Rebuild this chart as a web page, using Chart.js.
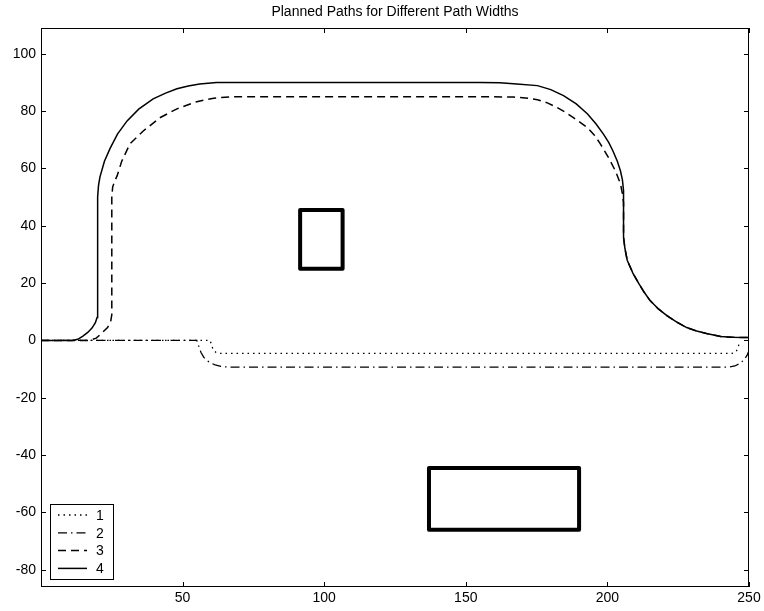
<!DOCTYPE html>
<html>
<head>
<meta charset="utf-8">
<script src="https://cdn.jsdelivr.net/npm/chart.js@4.4.0/dist/chart.umd.min.js"></script>
<style>
  html, body { margin: 0; padding: 0; background: #fff; }
</style>
</head>
<body>
<canvas id="chart" width="764" height="611"></canvas>
<script>
// tick labels
const xTicks = [50, 100, 150, 200, 250];
const yTicks = [-80, -60, -40, -20, 0, 20, 40, 60, 80, 100];

// path 1 (dotted)
const path1X = [0, 59.7, 60.2, 60.8, 61.8, 63, 244, 245.2, 246, 246.5];
const path1Y = [0, 0, -1.5, -3.3, -4.2, -4.5, -4.5, -4.1, -3, -1.2];

// path 2 (dash-dot)
const path2X = [0, 55, 55.7, 56.5, 57.5, 58.6, 60, 61.5, 63.5, 66, 243, 245, 246.8, 248.2, 249.3, 250];
const path2Y = [0, 0, -2, -4.2, -5.9, -7, -7.9, -8.5, -9, -9.3, -9.3, -8.9, -8, -6.8, -5.2, -3.5];

// path 3 (dashed)
const path3X = [0, 17, 19.5, 21.5, 23.5, 24.6, 25, 25, 25.3, 26, 26.9, 28.5, 31.4, 36, 42, 48, 55, 61, 67,
  160, 166.8, 171, 175.3, 179, 182.3, 185, 188, 190.5, 193, 195.5, 197.5, 200.4, 202.8, 204.6, 205.3, 205.7,
  205.7, 206.2, 207, 209, 211, 213, 215, 218, 221, 224.5, 228, 231.5, 235, 240, 244, 250];
const path3Y = [0, 0, 0.8, 2.6, 4.5, 6.5, 9, 50, 53.5, 55.5, 57.5, 62.5, 68.6, 73, 77.7, 80.8, 83.3, 84.5, 85,
  85, 84.9, 84.6, 84, 82.8, 81.2, 79.7, 77.7, 76, 74.2, 71.5, 68.6, 63.8, 59.2, 54.7, 51.2, 48,
  36, 32, 28, 23.5, 20, 16.8, 14, 11, 8.7, 6.4, 4.5, 3.3, 2.4, 1.4, 1.1, 1];

// path 4 (solid)
const path4X = [0, 11, 13, 14.8, 16.5, 18, 19.2, 19.8, 20, 20, 20.3, 20.8, 22.4, 24.4, 27, 30.4, 34.5, 39.6, 44, 48, 52, 56, 62,
  155, 162, 168, 175.3, 180, 184.5, 189, 193, 196, 198.6, 200.5, 202, 203.5, 204.6, 205.3, 205.7,
  205.7, 206.2, 207, 209, 211, 213, 215, 218, 221, 224.5, 228, 231.5, 235, 240, 244, 250];
const path4Y = [0, 0, 0.4, 1.5, 2.8, 4.3, 6.2, 8, 10, 50, 54, 57, 62.5, 67, 72, 76.6, 80.7, 84.3, 86.3, 87.8, 88.8, 89.5, 90,
  90, 89.9, 89.5, 88.9, 87.5, 85.4, 82.5, 79, 75.5, 72, 69, 66, 62.5, 59.2, 56, 52.3,
  36, 32, 28, 23.5, 20, 16.8, 14, 11, 8.7, 6.4, 4.5, 3.3, 2.4, 1.4, 1.1, 1];

// obstacles
const obstacle1X = [91.5, 106.5, 106.5, 91.5, 91.5];
const obstacle1Y = [25, 25, 45.5, 45.5, 25];
const obstacle2X = [137, 190, 190, 137, 137];
const obstacle2Y = [-66, -66, -44.5, -44.5, -66];

function toPoints(xs, ys) {
  return xs.map((x, i) => ({ x: x, y: ys[i] }));
}

const fontFamily = "'Liberation Sans', Arial, sans-serif";

// draws the box and the inward ticks on all four sides
const frameTicks = {
  id: "frameTicks",
  afterDraw(chart) {
    const ctx = chart.ctx;
    const a = chart.chartArea;
    const xs = chart.scales.x;
    const ys = chart.scales.y;
    const len = 5;
    ctx.save();
    ctx.strokeStyle = "#000";
    ctx.lineWidth = 1;
    ctx.strokeRect(a.left + 0.5, a.top + 0.5, a.right - a.left - 1, a.bottom - a.top - 1);
    ctx.beginPath();
    xTicks.forEach(v => {
      const px = Math.round(xs.getPixelForValue(v)) + 0.5;
      ctx.moveTo(px, a.bottom);
      ctx.lineTo(px, a.bottom - len);
      ctx.moveTo(px, a.top);
      ctx.lineTo(px, a.top + len);
    });
    yTicks.forEach(v => {
      const py = Math.round(ys.getPixelForValue(v)) + 0.5;
      ctx.moveTo(a.left, py);
      ctx.lineTo(a.left + len, py);
      ctx.moveTo(a.right, py);
      ctx.lineTo(a.right - len, py);
    });
    ctx.stroke();
    ctx.restore();
  }
};

// legend box in the lower left corner
const legendBox = {
  id: "legendBox",
  afterDraw(chart) {
    const ctx = chart.ctx;
    const a = chart.chartArea;
    const x0 = a.left + 9;
    const y0 = a.bottom - 83;
    const w = 63, h = 75;
    ctx.save();
    ctx.fillStyle = "#fff";
    ctx.fillRect(x0, y0, w, h);
    ctx.strokeStyle = "#000";
    ctx.lineWidth = 1;
    ctx.strokeRect(x0 + 0.5, y0 + 0.5, w, h);
    const items = chart.data.datasets.filter(d => d.legend);
    items.forEach((d, i) => {
      const y = y0 + 11 + i * 17.8;
      ctx.beginPath();
      ctx.setLineDash(d.borderDash || []);
      ctx.lineWidth = d.borderWidth;
      ctx.moveTo(x0 + 8, y);
      ctx.lineTo(x0 + 37, y);
      ctx.stroke();
      ctx.setLineDash([]);
      ctx.fillStyle = "#000";
      ctx.font = "14px " + fontFamily;
      ctx.textBaseline = "middle";
      ctx.fillText(d.label, x0 + 46, y + 1);
    });
    ctx.restore();
  }
};

function pathSet(label, xs, ys, dash, width) {
  return {
    label: label,
    legend: true,
    data: toPoints(xs, ys),
    borderColor: "#000",
    borderWidth: width,
    borderDash: dash,
    showLine: true,
    pointRadius: 0,
    fill: false,
    tension: 0
  };
}

function obstacleSet(xs, ys) {
  return {
    label: "",
    legend: false,
    data: toPoints(xs, ys),
    borderColor: "#000",
    borderWidth: 4,
    borderJoinStyle: "round",
    showLine: true,
    pointRadius: 0,
    fill: false
  };
}

new Chart(document.getElementById("chart").getContext("2d"), {
  type: "scatter",
  data: {
    datasets: [
      pathSet("1", path1X, path1Y, [1.5, 4], 1.3),
      pathSet("2", path2X, path2Y, [9, 4, 1.5, 4], 1.3),
      pathSet("3", path3X, path3Y, [8, 5], 1.5),
      pathSet("4", path4X, path4Y, [], 1.5),
      obstacleSet(obstacle1X, obstacle1Y),
      obstacleSet(obstacle2X, obstacle2Y)
    ]
  },
  options: {
    responsive: false,
    animation: false,
    layout: { padding: { left: 0, right: 15, top: 0, bottom: 0 } },
    plugins: {
      legend: { display: false },
      tooltip: { enabled: false },
      title: {
        display: true,
        text: "Planned Paths for Different Path Widths",
        color: "#000",
        fullSize: false,
        font: { family: fontFamily, size: 14, weight: "normal" },
        padding: { top: 4, bottom: 7.2 }
      }
    },
    scales: {
      x: {
        type: "linear",
        min: 0,
        max: 250,
        afterBuildTicks: s => { s.ticks = xTicks.map(v => ({ value: v })); },
        afterFit: s => { s.height = 24; },
        grid: { display: false, drawTicks: false },
        border: { display: false },
        ticks: { color: "#000", padding: 3, maxRotation: 0, font: { family: fontFamily, size: 14 } }
      },
      y: {
        type: "linear",
        min: -86,
        max: 109,
        afterBuildTicks: s => { s.ticks = yTicks.map(v => ({ value: v })); },
        afterFit: s => { s.width = 41; },
        grid: { display: false, drawTicks: false },
        border: { display: false },
        ticks: { color: "#000", padding: 5, font: { family: fontFamily, size: 14 } }
      }
    }
  },
  plugins: [frameTicks, legendBox]
});
</script>
</body>
</html>
